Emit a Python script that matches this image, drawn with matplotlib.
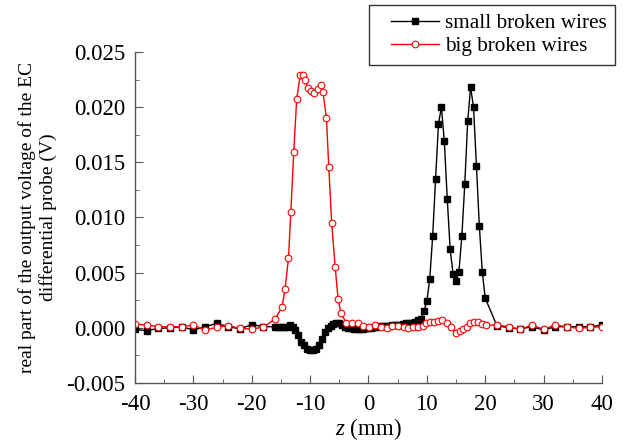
import matplotlib
matplotlib.use('Agg')
import matplotlib.pyplot as plt
from matplotlib.ticker import MultipleLocator, FormatStrFormatter
from matplotlib.lines import Line2D
from matplotlib.legend_handler import HandlerLine2D

plt.rcParams['font.family'] = 'Liberation Serif'
plt.rcParams['mathtext.fontset'] = 'custom'
plt.rcParams['mathtext.it'] = 'Liberation Serif:italic'
plt.rcParams['mathtext.rm'] = 'Liberation Serif'
plt.rcParams['axes.unicode_minus'] = False

# small broken wires: coarse 2 mm steps outside, 0.5 mm steps across the defect
z_small = [-40, -38, -36, -34, -32, -30, -28, -26, -24, -22, -20, -18,
           -16.0, -15.5, -15.0, -14.5, -14.0, -13.5, -13.0, -12.5, -12.0, -11.5,
           -11.0, -10.5, -10.0, -9.5, -9.0, -8.5, -8.0, -7.5, -7.0, -6.5,
           -6.0, -5.5, -5.0, -4.5, -4.0, -3.5, -3.0, -2.5, -2.0, -1.5,
           -1.0, -0.5, 0.0, 0.5, 1.0, 1.5, 2.0, 2.5, 3.0, 3.5,
           4.0, 4.5, 5.0, 5.5, 6.0, 6.5, 7.0, 7.5, 8.0, 8.5,
           9.0, 9.5, 10.0, 10.5, 11.0, 11.5, 12.0, 12.5, 13.0, 13.5,
           14.0, 14.5, 15.0, 15.5, 16.0, 16.5, 17.0, 17.5, 18.0, 18.5,
           19.0, 19.5, 20.0,
           22, 24, 26, 28, 30, 32, 34, 36, 38, 40]
v_small = [-0.00014, -0.00026, -0.00005, 0.0, 0.0001, -0.0002, 0.0001, 0.0004, 0.0001, -0.0001, 0.0003, 0.0001,
           0.0001, 0.0001, 0.0001, 0.0001, 0.0001, 0.00025, 0.0001, -0.0002, -0.00065, -0.00125,
           -0.0016, -0.0019, -0.002, -0.002, -0.0019, -0.0016, -0.001, -0.00035, 0.0, 0.0002,
           0.00035, 0.0004, 0.00045, 0.0003, 0.0001, 0.0, -0.00005, -0.0001, -0.00015, -0.00015,
           -0.0001, -0.00005, 0.0, 0.0, 0.0001, 0.0001, 0.00015, 0.0002, 0.0002, 0.0002,
           0.00025, 0.00025, 0.0003, 0.0003, 0.00035, 0.0004, 0.0004, 0.00045, 0.0005, 0.0007,
           0.0008, 0.0015, 0.0024, 0.0044, 0.0083, 0.0135, 0.0185, 0.0200, 0.0169, 0.0117,
           0.0071, 0.0049, 0.0042, 0.0051, 0.0083, 0.0130, 0.0187, 0.0218, 0.0200, 0.0147,
           0.0092, 0.0051, 0.0027,
           0.0002, 0.0, -0.0001, 0.0001, -0.0002, 0.0001, 0.0001, 0.0001, 0.0001, 0.00025]

# big broken wires
z_big = [-40, -38, -36, -34, -32, -30, -28, -26, -24, -22, -20, -18, -16,
         -14.8, -14.3, -13.7, -13.3, -12.8, -12.3, -11.7, -11.2, -10.8, -10.4,
         -9.8, -9.3, -8.7, -8.2, -7.8, -7.2, -6.8, -6.3, -5.7, -5.2, -4.7,
         -3.8, -2.8, -1.8, -0.9, 0.1, 1.1, 2.1, 3.1, 4.1, 5.1, 6.1, 6.8,
         7.7, 8.5, 9.3, 9.9, 10.5, 11.2, 11.9, 12.6, 13.4, 14.2, 15.0, 15.7,
         16.2, 16.8, 17.4, 18.1, 18.8, 19.5, 20.2,
         22, 24, 26, 28, 30, 32, 34, 36, 38, 40]
v_big = [0.00034, 0.00025, 0.0001, 0.0001, 0.0001, 0.00025, -0.0002, 0.00005, 0.0002, -0.00005, -0.0001, 0.00005, 0.0008,
         0.0019, 0.0035, 0.0063, 0.0105, 0.0159, 0.0207, 0.0229, 0.0229, 0.0225, 0.0217,
         0.0215, 0.0213, 0.0216, 0.0220, 0.0214, 0.0190, 0.0146, 0.0095, 0.0055, 0.0026, 0.0013,
         0.00046, 0.00046, 0.0004, 0.0002, 0.0001, 0.00025, 0.0001, -0.00005, 0.0002, 0.0002, 0.0001, -0.00005,
         0.0001, 0.0001, 0.0002, 0.0004, 0.00055, 0.00055, 0.00065, 0.0007, 0.0004, 0.0001, -0.00045, -0.00026,
         -0.00014, 0.0001, 0.0004, 0.0005, 0.0005, 0.00034, 0.00025,
         0.00025, 0.0001, -0.00014, 0.00025, -0.00014, 0.00025, 0.0001, -0.00005, 0.00004, 0.0001]

fig = plt.figure(figsize=(6.27, 4.42), dpi=100)
ax = fig.add_axes([0.2153, 0.1335, 0.7447, 0.7489])

ax.plot(z_small, v_small, '-s', color='k', lw=1.0, ms=4.3,
        markerfacecolor='k', markeredgecolor='k', label='small broken wires')
ax.plot(z_big, v_big, '-o', color='#ff0000', lw=1.0, ms=4.8, mew=0.8,
        markerfacecolor='w', markeredgecolor='#ff0000', label='big broken wires')

ax.set_xlim(-40, 40)
ax.set_ylim(-0.005, 0.025)
ax.xaxis.set_major_locator(MultipleLocator(10))
ax.xaxis.set_minor_locator(MultipleLocator(5))
ax.yaxis.set_major_locator(MultipleLocator(0.005))
ax.yaxis.set_minor_locator(MultipleLocator(0.0025))
ax.yaxis.set_major_formatter(FormatStrFormatter('%.3f'))

for s in ['top', 'right']:
    ax.spines[s].set_visible(False)
for s in ['left', 'bottom']:
    ax.spines[s].set_color('#555555')
    ax.spines[s].set_linewidth(1.0)

ax.tick_params(which='both', direction='in', color='#555555', labelsize=16.5)
ax.tick_params(axis='x', pad=8)
ax.tick_params(axis='y', pad=7)
ax.tick_params(which='major', length=6)
ax.tick_params(which='minor', length=3)

ax.set_xlabel('$z$ (mm)', fontsize=16.5, labelpad=1)
ax.set_ylabel('real part of the output voltage of the EC\ndifferential probe (V)',
              fontsize=14, linespacing=1.2, labelpad=7)

leg = fig.legend(loc='upper right', bbox_to_anchor=(0.981, 0.989), fontsize=15.3,
                 frameon=True, fancybox=False, edgecolor='k', handlelength=2.9,
                 borderpad=0.4, borderaxespad=0.0, labelspacing=0.15,
                 handletextpad=0.28,
                 handler_map={Line2D: HandlerLine2D(xpad=0.63)})
leg.get_frame().set_linewidth(1.0)

fig.savefig('out.png', dpi=100)
